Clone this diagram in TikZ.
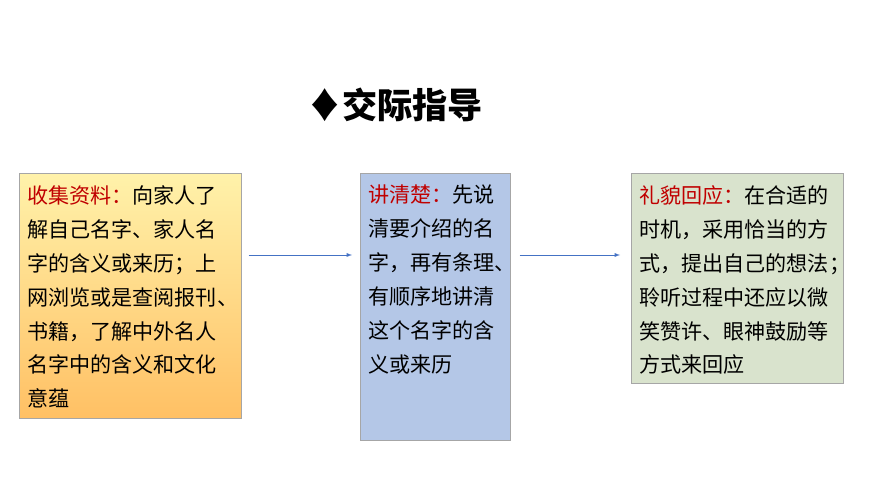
\documentclass[tikz,border=0pt]{standalone}
\usepackage{fontspec}
\setmainfont{Noto Sans CJK SC}
\usetikzlibrary{calc}
\definecolor{HeadRed}{RGB}{192,0,0}
\definecolor{BlueFill}{RGB}{180,199,231}
\definecolor{GreenFill}{RGB}{217,227,205}
\definecolor{ArrowBlue}{RGB}{68,114,196}
\tikzstyle{Card} = [draw=gray!70, line width=0.6pt, anchor=north west, inner sep=0pt]
\tikzstyle{Words} = [anchor=north west, align=left, font=\fontsize{18pt}{29pt}\selectfont, inner sep=0pt]
\tikzstyle{Arrow} = [->, >=latex, draw=ArrowBlue, line width=0.6pt]
\newcommand{\hd}[1]{\textcolor{HeadRed}{#1}}

\begin{document}
\begin{tikzpicture}[x=0.03cm,y=-0.03cm]
        \useasboundingbox (0,0) rectangle (870,489);

        %%%%% Title %%%%%
        \node[font=\fontsize{30pt}{34pt}\selectfont\bfseries] (T) at (395,105) {♦交际指导};

        %%%%% Boxes %%%%%
        \node[Card, minimum width=6.66cm, minimum height=7.35cm,
              top color={rgb,255:red,255;green,242;blue,170},
              bottom color={rgb,255:red,255;green,192;blue,100}] (A) at (19,173) {};
        \node[Card, fill=BlueFill, minimum width=4.5cm, minimum height=8.01cm] (B) at (360,173) {};
        \node[Card, fill=GreenFill, minimum width=6.36cm, minimum height=6.3cm] (C) at (631,173) {};

        %%%%% Texts %%%%%
        \node[Words] (TA) at ($(A.north west)+(8,12)$)
          {\hd{收集资料：}向家人了\\解自己名字、家人名\\字的含义或来历；上\\网浏览或是查阅报刊、\\书籍，了解中外名人\\名字中的含义和文化\\意蕴};
        \node[Words] (TB) at ($(B.north west)+(8,12)$)
          {\hd{讲清楚：}先说\\清要介绍的名\\字，再有条理、\\有顺序地讲清\\这个名字的含\\义或来历};
        \node[Words] (TC) at ($(C.north west)+(8,12)$)
          {\hd{礼貌回应：}在合适的\\时机，采用恰当的方\\式，提出自己的想法；\\聆听过程中还应以微\\笑赞许、眼神鼓励等\\方式来回应};

        %%%%% Arrows %%%%%
        \draw [Arrow] ($(A.north east)+(7,82)$) -- ($(B.north west)+(-8,82)$);
        \draw [Arrow] ($(B.north east)+(9,82)$) -- ($(C.north west)+(-11,82)$);
\end{tikzpicture}
\end{document}
